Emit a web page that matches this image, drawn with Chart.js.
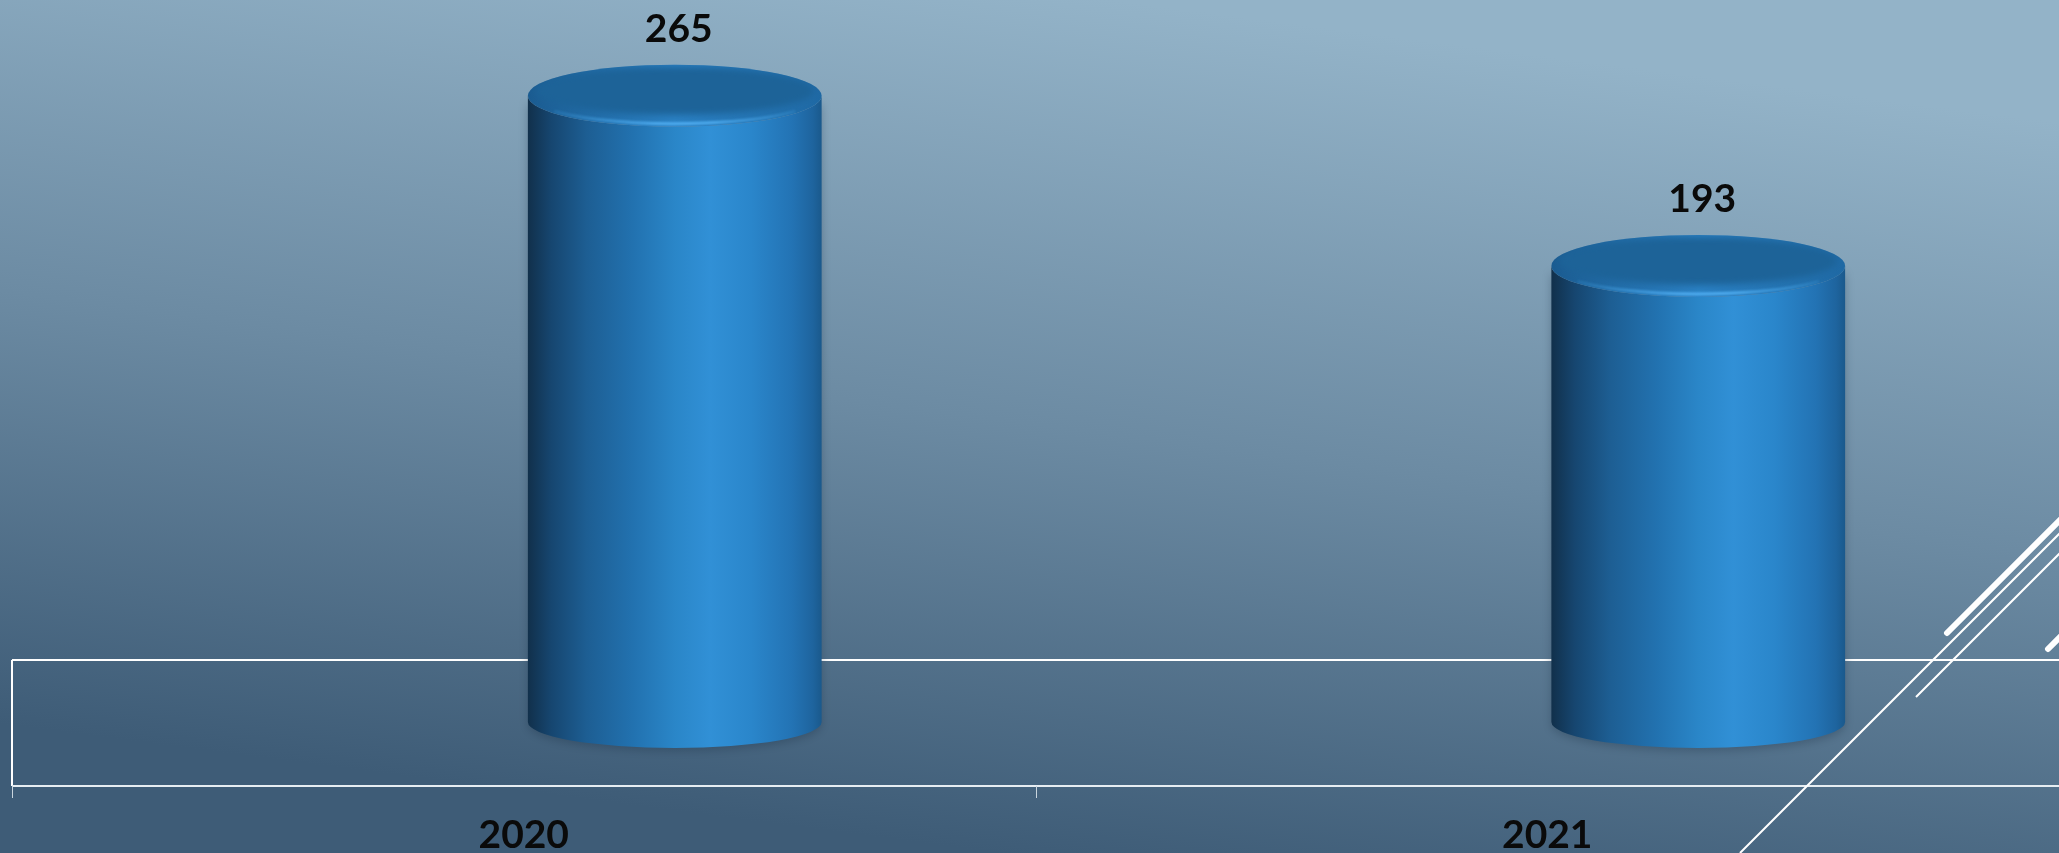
<!DOCTYPE html>
<html>
<head>
<meta charset="utf-8">
<script src="https://cdn.jsdelivr.net/npm/chart.js@4/dist/chart.umd.min.js"></script>
<style>
  html, body { margin: 0; padding: 0; background: #6b8aa2; }
  #wrap { width: 2059px; height: 853px; }
</style>
</head>
<body>
<div id="wrap"><canvas id="myChart" width="2059" height="853"></canvas></div>
<script>
const categories = ['2020', '2021'];
const counts = [265, 193];
const yMax = 300;

const depthShift = 151;      // bars sit mid-floor, shifted right of the front plane
const topRy = 31;
const bottomRy = 26;
const floorBack = 62;
const floorFront = 64;

const ctx = document.getElementById('myChart').getContext('2d');

const backgroundPlugin = {
    id: 'slideBackground',
    beforeDraw(chart) {
        const c = chart.ctx;
        const g = c.createLinearGradient(1000, chart.height, 1110, 0);
        g.addColorStop(0, '#3e5c77');
        g.addColorStop(0.5, '#6c8ba3');
        g.addColorStop(1, '#93b3c8');
        c.save();
        c.fillStyle = g;
        c.fillRect(0, 0, chart.width, chart.height);
        c.restore();
    }
};

const floorPlugin = {
    id: 'floor',
    beforeDatasetsDraw(chart) {
        const c = chart.ctx;
        const area = chart.chartArea;
        const x = chart.scales.x;
        const base = chart.scales.y.getPixelForValue(0);
        c.save();
        c.strokeStyle = '#ffffff';
        c.lineWidth = 2;
        c.beginPath();
        c.moveTo(area.left, base - floorBack);
        c.lineTo(chart.width, base - floorBack);
        c.moveTo(area.left, base - floorBack);
        c.lineTo(area.left, base + floorFront);
        c.stroke();
        c.strokeStyle = '#e6edf2';
        c.beginPath();
        c.moveTo(area.left, base + floorFront);
        c.lineTo(chart.width, base + floorFront);
        c.stroke();
        // category boundary ticks
        c.strokeStyle = '#c9d5de';
        c.lineWidth = 1;
        const half = (x.getPixelForValue(1) - x.getPixelForValue(0)) / 2;
        c.beginPath();
        for (let i = 0; i < categories.length; i++) {
            const tx = Math.round(x.getPixelForValue(i) - half) + 0.5;
            c.moveTo(tx, base + floorFront);
            c.lineTo(tx, base + floorFront + 12);
        }
        c.stroke();
        c.restore();
    }
};

const cylinderPlugin = {
    id: 'cylinders',
    afterDatasetsDraw(chart) {
        const c = chart.ctx;
        const meta = chart.getDatasetMeta(0);
        meta.data.forEach((bar, i) => {
            const p = bar.getProps(['x', 'y', 'base', 'width'], true);
            const cx = p.x + depthShift;
            const rx = p.width / 2;
            const top = p.y;
            const bottom = p.base;

            const body = c.createLinearGradient(cx - rx, 0, cx + rx, 0);
            body.addColorStop(0, '#11304b');
            body.addColorStop(0.08, '#164670');
            body.addColorStop(0.2, '#1d5e93');
            body.addColorStop(0.36, '#2272b0');
            body.addColorStop(0.5, '#2a86c8');
            body.addColorStop(0.62, '#3190d6');
            body.addColorStop(0.76, '#2a86cb');
            body.addColorStop(0.9, '#2373b4');
            body.addColorStop(0.97, '#1e649e');
            body.addColorStop(1, '#1a598c');

            c.save();
            c.shadowColor = 'rgba(20,40,60,0.3)';
            c.shadowBlur = 10;
            c.shadowOffsetY = 3;
            c.beginPath();
            c.moveTo(cx - rx, top);
            c.lineTo(cx - rx, bottom);
            c.ellipse(cx, bottom, rx, bottomRy, 0, Math.PI, 0, true);
            c.lineTo(cx + rx, top);
            c.ellipse(cx, top, rx, topRy, 0, 0, Math.PI, false);
            c.closePath();
            c.fillStyle = body;
            c.fill();
            c.restore();

            // top cap: rounded rim then flat inner face
            c.save();
            const rim = c.createLinearGradient(cx - rx, 0, cx + rx, 0);
            rim.addColorStop(0, '#1b5c91');
            rim.addColorStop(0.5, '#2a80c3');
            rim.addColorStop(1, '#1f69a4');
            c.beginPath();
            c.ellipse(cx, top, rx, topRy, 0, 0, Math.PI * 2);
            c.fillStyle = rim;
            c.fill();
            c.beginPath();
            c.ellipse(cx, top, rx, topRy, 0, 0, Math.PI * 2);
            c.clip();
            c.filter = 'blur(3px)';
            c.beginPath();
            c.ellipse(cx, top - 5, rx - 8, topRy - 7, 0, 0, Math.PI * 2);
            c.fillStyle = '#1d6398';
            c.fill();
            c.filter = 'none';
            // front highlight of the bevel
            const hl = c.createLinearGradient(cx - rx, 0, cx + rx, 0);
            hl.addColorStop(0, 'rgba(70,170,240,0)');
            hl.addColorStop(0.45, 'rgba(85,180,248,0.85)');
            hl.addColorStop(0.62, 'rgba(85,180,248,0.85)');
            hl.addColorStop(1, 'rgba(70,170,240,0)');
            c.beginPath();
            c.ellipse(cx, top + 1, rx - 4, topRy - 4, 0, 0.18 * Math.PI, 0.82 * Math.PI);
            c.strokeStyle = hl;
            c.lineWidth = 3;
            c.filter = 'blur(1px)';
            c.stroke();
            c.restore();

            // value label
            c.save();
            c.fillStyle = '#0a0a0a';
            c.font = 'bold 39px Lato, "Open Sans", sans-serif';
            c.textAlign = 'center';
            c.textBaseline = 'middle';
            c.fillText(String(counts[i]), cx + 4, top - 66);
            c.restore();
        });
    }
};

const decorPlugin = {
    id: 'slideDecor',
    afterDraw(chart) {
        const c = chart.ctx;
        c.save();
        c.strokeStyle = '#ffffff';
        c.lineCap = 'round';
        c.lineWidth = 6;
        c.beginPath();
        c.moveTo(1947, 633); c.lineTo(2062, 518);
        c.moveTo(2048, 649); c.lineTo(2062, 635);
        c.stroke();
        c.lineCap = 'butt';
        c.lineWidth = 2;
        c.beginPath();
        c.moveTo(1740, 853); c.lineTo(2062, 531);
        c.moveTo(1916, 697); c.lineTo(2062, 551);
        c.stroke();
        c.restore();
    }
};

const myChart = new Chart(ctx, {
    type: 'bar',
    data: {
        labels: categories,
        datasets: [{
            label: 'Count',
            data: counts,
            backgroundColor: 'rgba(0,0,0,0)',
            borderWidth: 0,
            barPercentage: 0.287,
            categoryPercentage: 1
        }]
    },
    options: {
        responsive: false,
        animation: false,
        layout: { padding: { top: 13, left: 12, right: 0, bottom: 0 } },
        plugins: {
            legend: { display: false },
            tooltip: { enabled: false }
        },
        scales: {
            y: { display: false, min: 0, max: yMax },
            x: {
                grid: { display: false, drawTicks: false },
                border: { display: false },
                afterFit: (scale) => { scale.height = 131; },
                ticks: {
                    color: '#0a0a0a',
                    padding: 90,
                    font: { family: 'Lato, "Open Sans", sans-serif', size: 39, weight: 'bold' }
                }
            }
        }
    },
    plugins: [backgroundPlugin, floorPlugin, cylinderPlugin, decorPlugin]
});
</script>
</body>
</html>
